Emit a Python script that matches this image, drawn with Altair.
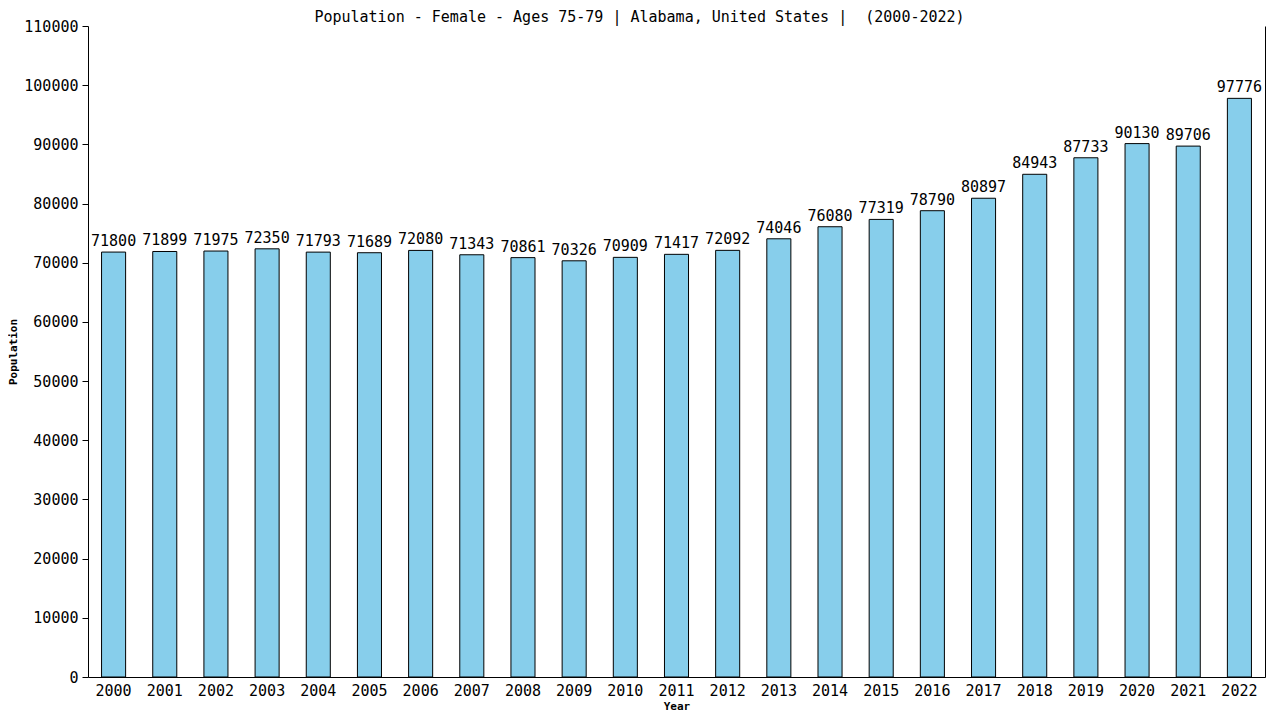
import altair as alt
import pandas as pd

years = [str(y) for y in range(2000, 2023)]
values = [71800, 71899, 71975, 72350, 71793, 71689, 72080, 71343, 70861, 70326,
          70909, 71417, 72092, 74046, 76080, 77319, 78790, 80897, 84943, 87733,
          90130, 89706, 97776]

df = pd.DataFrame({"Year": years, "Population": values})

FONT = "DejaVu Sans Mono"

x = alt.X("Year:N", sort=years,
          scale=alt.Scale(paddingInner=0.53, paddingOuter=0.265),
          axis=alt.Axis(labelAngle=0, ticks=False, labelFont=FONT, labelFontSize=15,
                        labelColor="black", domainColor="black", labelPadding=6,
                        title="Year", titleFont=FONT, titleFontSize=11,
                        titleFontWeight="bold", titlePadding=2))

yscale = alt.Scale(domain=[0, 110000], nice=False)

bars = alt.Chart(df).mark_bar(color="#87CEEB", stroke="black", strokeWidth=1).encode(
    x=x,
    y=alt.Y("Population:Q", scale=yscale,
            axis=alt.Axis(values=list(range(0, 110001, 10000)), grid=False, format="d",
                          tickSize=6, tickColor="black", domainColor="black",
                          labelFont=FONT, labelFontSize=15, labelColor="black",
                          labelPadding=4, title="Population", titleFont=FONT,
                          titleFontSize=11, titleFontWeight="bold", titlePadding=5)),
)

labels = alt.Chart(df).mark_text(font=FONT, fontSize=15, baseline="bottom", dy=-3,
                                 color="black").encode(
    x=x,
    y=alt.Y("Population:Q", scale=yscale,
            axis=alt.Axis(orient="right", labels=False, ticks=False, grid=False,
                          domainColor="black", title=None)),
    text=alt.Text("Population:Q", format="d"),
)

chart = alt.layer(bars, labels).resolve_axis(y="independent").properties(
    width=1177, height=651,
    title=alt.TitleParams(
        "Population - Female - Ages 75-79 | Alabama, United States |\u00a0 (2000-2022)",
        font=FONT, fontSize=15, fontWeight="normal", color="black",
        anchor="middle", dx=-37, dy=6, offset=0),
    padding={"left": 80, "top": 18, "right": 7, "bottom": 35},
    autosize=alt.AutoSizeParams(type="none"),
).configure_view(stroke=None)

chart.save("out.html", embed_options={"renderer": "svg", "actions": False})
